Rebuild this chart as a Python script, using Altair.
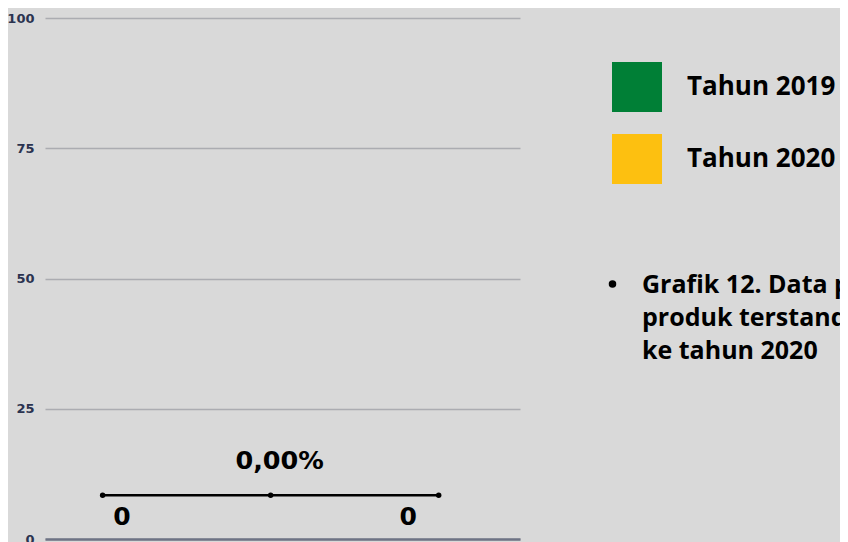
import altair as alt
import pandas as pd

# ---- data ----
years = ["Tahun 2019", "Tahun 2020"]
year_values = [0, 0]
bar_pos = [1.115, 2.818]
line_pos = [1, 2, 3]
line_values = [8.4, 8.4, 8.4]
change_label = ["0,00%"]
colors = ["#007f36", "#fdc010"]
y_ticks = [0, 25, 50, 75, 100]
caption_lines = ["Grafik 12. Data persentase", "produk terstandardisasi tahun 2019", "ke tahun 2020"]

bars_df = pd.DataFrame({"tahun": years, "nilai": year_values, "pos": bar_pos})
line_df = pd.DataFrame({"pos": line_pos, "nilai": line_values})
lbl_df = pd.DataFrame({"pos": [line_pos[1]], "nilai": [line_values[1]], "label": change_label})
one = pd.DataFrame({"k": [0]})

FONT = "Open Sans"
NUMFONT = "DejaVu Sans"

xscale = alt.Scale(domain=[0.657, 3.484], nice=False, zero=False, padding=0)
yscale = alt.Scale(domain=[0, 100], nice=False, padding=0)

X = alt.X("pos:Q", scale=xscale,
          axis=alt.Axis(labels=False, ticks=False, title=None, grid=False,
                        domain=True, domainColor="#6e7385", domainWidth=2.5))
Y = alt.Y("nilai:Q", scale=yscale,
          axis=alt.Axis(values=y_ticks, title=None, ticks=False, domain=False,
                        labelPadding=11, labelFont=NUMFONT, labelFontWeight="bold",
                        labelFontSize=13, labelColor="#2b3350",
                        gridColor="#abacb1", gridWidth=1.5))

bars = alt.Chart(bars_df).mark_bar(size=30).encode(
    x=X, y=Y,
    color=alt.Color("tahun:N", scale=alt.Scale(domain=years, range=colors),
                    legend=alt.Legend(title=None, orient="none", legendX=567, legendY=44,
                                      symbolType="square", symbolSize=2500,
                                      symbolStrokeWidth=0, labelFont=FONT,
                                      labelFontWeight="bold", labelFontSize=26,
                                      labelColor="#000000", labelOffset=25,
                                      rowPadding=22, labelLimit=400)),
)

bar_labels = alt.Chart(bars_df).mark_text(
    font=NUMFONT, fontWeight="bold", fontSize=25, color="#000000",
    baseline="middle", dy=-22.5
).encode(x=X, y=Y, text=alt.Text("nilai:Q"))

line = alt.Chart(line_df).mark_line(color="#000000", strokeWidth=2.5).encode(x=X, y=Y)
pts = alt.Chart(line_df).mark_circle(color="#000000", size=30, opacity=1).encode(x=X, y=Y)

pct = alt.Chart(lbl_df).mark_text(
    font=NUMFONT, fontWeight="bold", fontSize=25.5, color="#000000",
    baseline="middle", dy=-34, dx=9
).encode(x=X, y=Y, text="label:N")

bullet = alt.Chart(one).mark_circle(color="#000000", size=57, opacity=1).encode(
    x=alt.value(567.5), y=alt.value(266))
caption = alt.Chart(one).mark_text(
    text=caption_lines, font=FONT, fontWeight="bold", fontSize=25, color="#000000",
    align="left", baseline="alphabetic", lineHeight=33
).encode(x=alt.value(597), y=alt.value(274.5))

chart = alt.layer(bars, bar_labels, line, pts, pct, bullet, caption).properties(
    width=475, height=521,
    background="#d9d9d9",
    padding={"left": 37, "top": 10, "right": 320, "bottom": 3},
    autosize=alt.AutoSizeParams(type="none"),
).configure_view(stroke=None)

chart.save("out.html", embed_options={"renderer": "svg", "actions": False})
